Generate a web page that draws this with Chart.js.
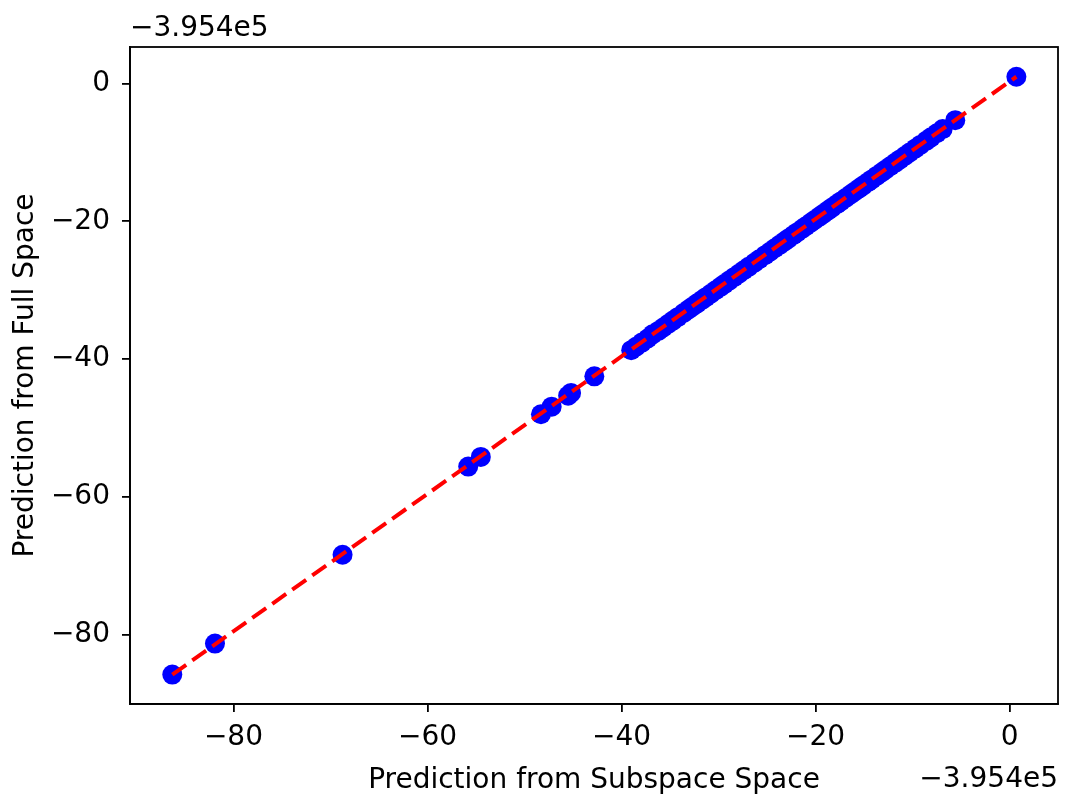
<!DOCTYPE html>
<html>
<head>
<meta charset="utf-8">
<script src="https://cdn.jsdelivr.net/npm/chart.js@4/dist/chart.umd.min.js"></script>
<style>
  html, body { margin: 0; padding: 0; background: #fff; }
  #wrap { width: 1068px; height: 796px; }
</style>
</head>
<body>
<div id="wrap"><canvas id="scatter"></canvas></div>
<script>
// Prediction from subspace space (x) vs full space (y), offset -3.954e5
const subspaceX = [
  -86.3, -81.9, -68.75, -55.8, -54.5, -48.3, -47.2, -45.5, -45.2, -42.8,
  -39.0, -38.5, -37.9, -37.3, -36.8, -36.2, -35.7, -35.2, -34.7, -34.2,
  -33.6, -33.1, -32.7, -32.2, -31.7, -31.3, -30.8, -30.3, -29.8, -29.4,
  -28.9, -28.4, -27.9, -27.4, -26.9, -26.3, -25.8, -25.2, -24.7, -24.2,
  -23.7, -23.2, -22.8, -22.3, -21.9, -21.4, -21.0, -20.5, -20.1, -19.6,
  -19.2, -18.7, -18.3, -17.8, -17.4, -16.9, -16.4, -16.0, -15.5, -15.1,
  -14.6, -14.2, -13.7, -13.2, -12.8, -12.3, -11.8, -11.3, -10.8, -10.3,
  -9.7, -9.2, -8.6, -8.1, -7.5, -6.9, -5.6, 0.7
];
const fullY = [
  -85.8, -81.3, -68.4, -55.6, -54.2, -48.0, -46.9, -45.3, -44.9, -42.5,
  -38.7, -38.2, -37.6, -37.0, -36.4, -35.9, -35.4, -34.9, -34.4, -33.9,
  -33.3, -32.8, -32.4, -31.9, -31.4, -31.0, -30.5, -30.0, -29.5, -29.1,
  -28.6, -28.1, -27.6, -27.1, -26.6, -26.0, -25.5, -24.9, -24.4, -23.9,
  -23.4, -22.9, -22.5, -22.0, -21.6, -21.1, -20.7, -20.2, -19.8, -19.3,
  -18.9, -18.4, -18.0, -17.5, -17.1, -16.6, -16.1, -15.7, -15.2, -14.8,
  -14.3, -13.9, -13.4, -12.9, -12.5, -12.0, -11.5, -11.0, -10.5, -10.0,
  -9.4, -8.9, -8.3, -7.8, -7.2, -6.6, -5.3, 1.0
];
// reference line endpoints (x = y)
const lineX = [-86.3, 0.7];
const lineY = [-85.8, 1.0];

const xTicks = [-80, -60, -40, -20, 0];
const yTicks = [-80, -60, -40, -20, 0];
const xRange = [-90.66, 4.99];
const yRange = [-90.07, 5.32];
const offsetLabel = '\u22123.954e5';

const FONT = 'DejaVu Sans';
const SIZE = 28;
const fmt = v => (v < 0 ? '\u2212' + Math.abs(v) : String(v));

const boxAndOffset = {
  id: 'boxAndOffset',
  afterDraw(chart) {
    const { ctx, chartArea: a } = chart;
    ctx.save();
    ctx.strokeStyle = '#000';
    ctx.lineWidth = 1.8;
    ctx.strokeRect(a.left, a.top, a.right - a.left, a.bottom - a.top);
    ctx.fillStyle = '#000';
    ctx.font = SIZE + 'px "' + FONT + '"';
    ctx.textBaseline = 'alphabetic';
    ctx.textAlign = 'left';
    ctx.fillText(offsetLabel, a.left, 36);
    ctx.textAlign = 'right';
    ctx.fillText(offsetLabel, a.right, 787);
    ctx.restore();
  }
};

const axisCommon = {
  type: 'linear',
  grid: { drawOnChartArea: false, color: '#000', tickColor: '#000', tickLength: 8, lineWidth: 1.8 },
  border: { display: true, color: '#000', width: 1.8 },
  ticks: { color: '#000', font: { family: FONT, size: SIZE }, callback: fmt }
};

new Chart(document.getElementById('scatter'), {
  type: 'scatter',
  data: {
    datasets: [
      {
        type: 'line',
        data: lineX.map((x, i) => ({ x, y: lineY[i] })),
        borderColor: '#ff0000',
        borderWidth: 4,
        borderDash: [17, 7.5],
        pointRadius: 0,
        fill: false,
        order: 0
      },
      {
        data: subspaceX.map((x, i) => ({ x, y: fullY[i] })),
        backgroundColor: '#0000ff',
        borderColor: '#0000ff',
        borderWidth: 0,
        pointRadius: 10,
        order: 1
      }
    ]
  },
  options: {
    responsive: true,
    maintainAspectRatio: false,
    animation: false,
    layout: { padding: { left: 0, top: 47, right: 5, bottom: 0 } },
    plugins: { legend: { display: false }, tooltip: { enabled: false } },
    scales: {
      x: {
        ...axisCommon,
        min: xRange[0], max: xRange[1],
        afterBuildTicks: s => { s.ticks = xTicks.map(v => ({ value: v })); },
        afterFit: s => { s.height = 92; },
        ticks: { ...axisCommon.ticks, padding: 9, maxRotation: 0 },
        title: { display: true, text: 'Prediction from Subspace Space', color: '#000',
                 font: { family: FONT, size: SIZE, lineHeight: 1.0 }, padding: { top: 0, bottom: 1 } }
      },
      y: {
        ...axisCommon,
        min: yRange[0], max: yRange[1],
        afterBuildTicks: s => { s.ticks = yTicks.map(v => ({ value: v })); },
        afterFit: s => { s.width = 130; },
        ticks: { ...axisCommon.ticks, padding: 12 },
        title: { display: true, text: 'Prediction from Full Space', color: '#000',
                 font: { family: FONT, size: SIZE }, padding: { top: 9, bottom: 0 } }
      }
    }
  },
  plugins: [boxAndOffset]
});
</script>
</body>
</html>
